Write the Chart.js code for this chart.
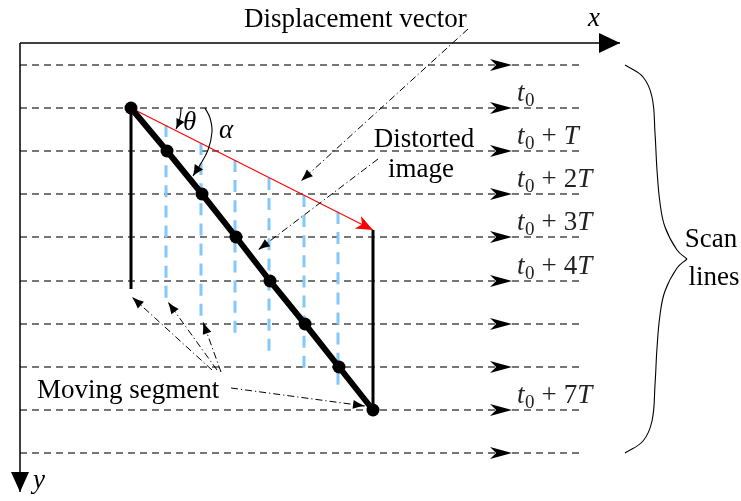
<!DOCTYPE html>
<html>
<head>
<meta charset="utf-8">
<script src="https://cdn.jsdelivr.net/npm/chart.js@4.4.0/dist/chart.umd.min.js"></script>
<style>
  html, body { margin: 0; padding: 0; background: #fff; }
  #wrap { width: 741px; height: 501px; }
</style>
</head>
<body>
<div id="wrap"><canvas id="myChart"></canvas></div>
<script>
// ---- data (diagram units = pixels of the 741x501 picture, y grows downward) ----

// scan lines and the time label written on each
var scanY = [65, 108, 151, 194, 237, 281, 324, 367, 410, 453];
var scanLabels = ['', 't0', 't0+T', 't0+2T', 't0+3T', 't0+4T', '', '', 't0+7T', ''];
var scanX = [20, 512, 580];          // start, arrow tip, end

// distorted image: the segment sampled on scan lines t0 .. t0+7T
var segX = [131, 167, 202, 236, 270, 305, 339, 373];
var segY = [108, 151, 194, 237, 281, 324, 367, 410];

// moving segment position at each step (vertical bar)
var barX = [131, 166, 201, 235, 269, 304, 338, 373];
var barTop = [108, 125, 143, 160, 178, 195, 212, 230];
var barBottom = [289, 306, 324, 341, 359, 376, 393, 410];

// displacement vector
var dispVecX = [131, 373];
var dispVecY = [108, 230];

// angle arcs
var thetaX = [181, 180.6, 179.5, 178, 176];
var thetaY = [108, 114, 120, 125, 129];
var alphaX = [205, 210, 212, 208, 200, 193];
var alphaY = [108, 118, 132, 150, 165, 176];

// pointer arrows [x0, y0, x1, y1]
var pointers = [
  [468, 29, 301, 181],     // displacement vector
  [378, 159, 258, 250],    // distorted image
  [212, 370, 132, 297],    // moving segment
  [217, 370, 168, 302],
  [221, 372, 203, 322],
  [231, 388, 365, 406]
];

// brace around the scan lines (top half, bottom half mirrors it)
var braceX = [625, 643, 652, 655, 657, 660, 665, 677, 687];
var braceY = [65, 77, 97, 133, 170, 203, 227, 250, 259];

// axes
var axisOrigin = [20, 43];
var axisXEnd = 620;
var axisYEnd = 492;

// ---- helpers ----
function pts(xs, ys) {
  return xs.map(function (x, i) { return { x: x, y: ys[i] }; });
}

function line(data, opts) {
  var ds = {
    data: data,
    showLine: true,
    borderColor: '#000',
    borderWidth: 1,
    pointRadius: 0,
    tension: 0,
    clip: false
  };
  for (var k in opts) ds[k] = opts[k];
  return ds;
}

var layers = [];   // in painting order (bottom first)

// scan lines
scanY.forEach(function (y) {
  layers.push(line(scanX.map(function (x) { return { x: x, y: y }; }),
    { borderColor: '#4a4a4a', borderWidth: 1.3, borderDash: [7, 5], arrowAt: 1, arrowStyle: 'stealth', arrowLen: 22, arrowHalf: 6 }));
});

// blue dashed bars (intermediate positions)
for (var i = 1; i < barX.length - 1; i++) {
  layers.push(line([{ x: barX[i], y: barTop[i] }, { x: barX[i], y: barBottom[i] }],
    { borderColor: '#82c8f8', borderWidth: 3, borderDash: [12, 8.1] }));
}

// black bars: initial and final position
[0, barX.length - 1].forEach(function (i) {
  layers.push(line([{ x: barX[i], y: barTop[i] }, { x: barX[i], y: barBottom[i] }],
    { borderWidth: 3 }));
});

// red displacement vector
layers.push(line(pts(dispVecX, dispVecY),
  { borderColor: '#ff0000', borderWidth: 1.1, arrowAt: 1, arrowStyle: 'stealth', arrowLen: 17, arrowHalf: 7, arrowColor: '#ff0000' }));

// thick distorted segment with sample points
layers.push(line(pts(segX, segY),
  { borderWidth: 6, pointRadius: 6.5, pointBackgroundColor: '#000', pointBorderColor: '#000', pointBorderWidth: 0 }));

// angle arcs
layers.push(line(pts(thetaX, thetaY), { borderWidth: 1.1, tension: 0.4, arrowAt: thetaX.length - 1, arrowStyle: 'latex', arrowLen: 10, arrowHalf: 4.5 }));
layers.push(line(pts(alphaX, alphaY), { borderWidth: 1.1, tension: 0.4, arrowAt: alphaX.length - 1, arrowStyle: 'latex', arrowLen: 11, arrowHalf: 5 }));

// dash-dot pointer arrows
pointers.forEach(function (p) {
  layers.push(line([{ x: p[0], y: p[1] }, { x: p[2], y: p[3] }],
    { borderWidth: 1, borderDash: [7, 3, 1.2, 3], arrowAt: 1, arrowStyle: 'latex', arrowLen: 12, arrowHalf: 4.5 }));
});

// brace
layers.push(line(pts(braceX, braceY), { borderWidth: 1.1, tension: 0.4 }));
layers.push(line(pts(braceX, braceY.map(function (y) { return 518 - y; })), { borderWidth: 1.1, tension: 0.4 }));

// axes
layers.push(line([{ x: axisOrigin[0], y: axisOrigin[1] }, { x: axisXEnd, y: axisOrigin[1] }],
  { borderWidth: 1.5, arrowAt: 1, arrowStyle: 'triangle', arrowLen: 21, arrowHalf: 10 }));
layers.push(line([{ x: axisOrigin[0], y: axisOrigin[1] }, { x: axisOrigin[0], y: axisYEnd }],
  { borderWidth: 1.5, arrowAt: 1, arrowStyle: 'triangle', arrowLen: 20, arrowHalf: 9 }));

// Chart.js paints the first dataset on top, so hand them over reversed
var datasets = layers.slice().reverse();

// ---- text ----
var serif = '"Liberation Serif", "Times New Roman", serif';
var notes = [
  { text: 'Displacement vector', x: 244, y: 27, align: 'left' },
  { text: 'Distorted', x: 424, y: 147, align: 'center' },
  { text: 'image', x: 421, y: 177, align: 'center' },
  { text: 'Moving segment', x: 37, y: 398, align: 'left' },
  { text: 'Scan', x: 711, y: 247, align: 'center' },
  { text: 'lines', x: 714, y: 285, align: 'center' },
  { text: 'x', x: 588, y: 26, align: 'left', italic: true },
  { text: 'y', x: 33, y: 488, align: 'left', italic: true },
  { text: '\u03b8', x: 183, y: 130, align: 'left', italic: true },
  { text: '\u03b1', x: 219, y: 138, align: 'left', italic: true }
];

function drawHead(ctx, tip, from, ds) {
  var ang = Math.atan2(tip[1] - from[1], tip[0] - from[0]);
  var len = ds.arrowLen, half = ds.arrowHalf;
  ctx.save();
  ctx.translate(tip[0], tip[1]);
  ctx.rotate(ang);
  ctx.fillStyle = ds.arrowColor || '#000';
  ctx.beginPath();
  ctx.moveTo(0, 0);
  if (ds.arrowStyle === 'stealth') {
    ctx.lineTo(-len, -half);
    ctx.lineTo(-len * 0.72, 0);
    ctx.lineTo(-len, half);
  } else if (ds.arrowStyle === 'latex') {
    ctx.quadraticCurveTo(-len * 0.5, -half * 0.35, -len, -half);
    ctx.lineTo(-len, half);
    ctx.quadraticCurveTo(-len * 0.5, half * 0.35, 0, 0);
  } else {
    ctx.lineTo(-len, -half);
    ctx.lineTo(-len, half);
  }
  ctx.closePath();
  ctx.fill();
  ctx.restore();
}

function drawTime(ctx, label, x, y) {
  var m = /^t0(?:\+(\d*)T)?$/.exec(label);
  if (!m) return;
  var it = 'italic 27px ' + serif, rm = '27px ' + serif, sub = '19px ' + serif;
  ctx.textAlign = 'left';
  ctx.textBaseline = 'alphabetic';
  ctx.font = it; ctx.fillText('t', x, y); x += ctx.measureText('t').width + 0.5;
  ctx.font = sub; ctx.fillText('0', x, y + 5); x += ctx.measureText('0').width;
  if (m[1] !== undefined) {
    ctx.font = rm; x += 7;
    ctx.fillText('+', x, y); x += ctx.measureText('+').width + 7;
    if (m[1]) { ctx.fillText(m[1], x, y); x += ctx.measureText(m[1]).width; }
    ctx.font = it; ctx.fillText('T', x, y);
  }
}

var diagramPlugin = {
  id: 'diagram',
  afterDatasetsDraw: function (chart) {
    var ctx = chart.ctx, sx = chart.scales.x, sy = chart.scales.y;
    function P(x, y) { return [sx.getPixelForValue(x), sy.getPixelForValue(y)]; }

    // arrow heads
    chart.data.datasets.forEach(function (ds) {
      if (ds.arrowAt === undefined) return;
      var a = ds.data[ds.arrowAt], b = ds.data[ds.arrowAt - 1];
      drawHead(ctx, P(a.x, a.y), P(b.x, b.y), ds);
    });

    ctx.save();
    // time labels on scan lines
    ctx.fillStyle = '#222';
    scanLabels.forEach(function (lab, i) {
      var p = P(scanX[1] + 5, scanY[i] - 7);
      drawTime(ctx, lab, p[0], p[1]);
    });
    // other text
    ctx.fillStyle = '#000';
    ctx.textBaseline = 'alphabetic';
    notes.forEach(function (n) {
      var p = P(n.x, n.y);
      ctx.font = (n.italic ? 'italic ' : '') + '27px ' + serif;
      ctx.textAlign = n.align;
      ctx.fillText(n.text, p[0], p[1]);
    });
    ctx.restore();
  }
};

var ctx = document.getElementById('myChart').getContext('2d');
var chart = new Chart(ctx, {
  type: 'scatter',
  data: { datasets: datasets },
  options: {
    responsive: true,
    maintainAspectRatio: false,
    animation: false,
    events: [],
    layout: { padding: 0, autoPadding: false },
    plugins: { legend: { display: false }, tooltip: { enabled: false } },
    scales: {
      x: { type: 'linear', min: 0, max: 741, display: false },
      y: { type: 'linear', min: 0, max: 501, reverse: true, display: false }
    }
  },
  plugins: [diagramPlugin]
});
</script>
</body>
</html>
